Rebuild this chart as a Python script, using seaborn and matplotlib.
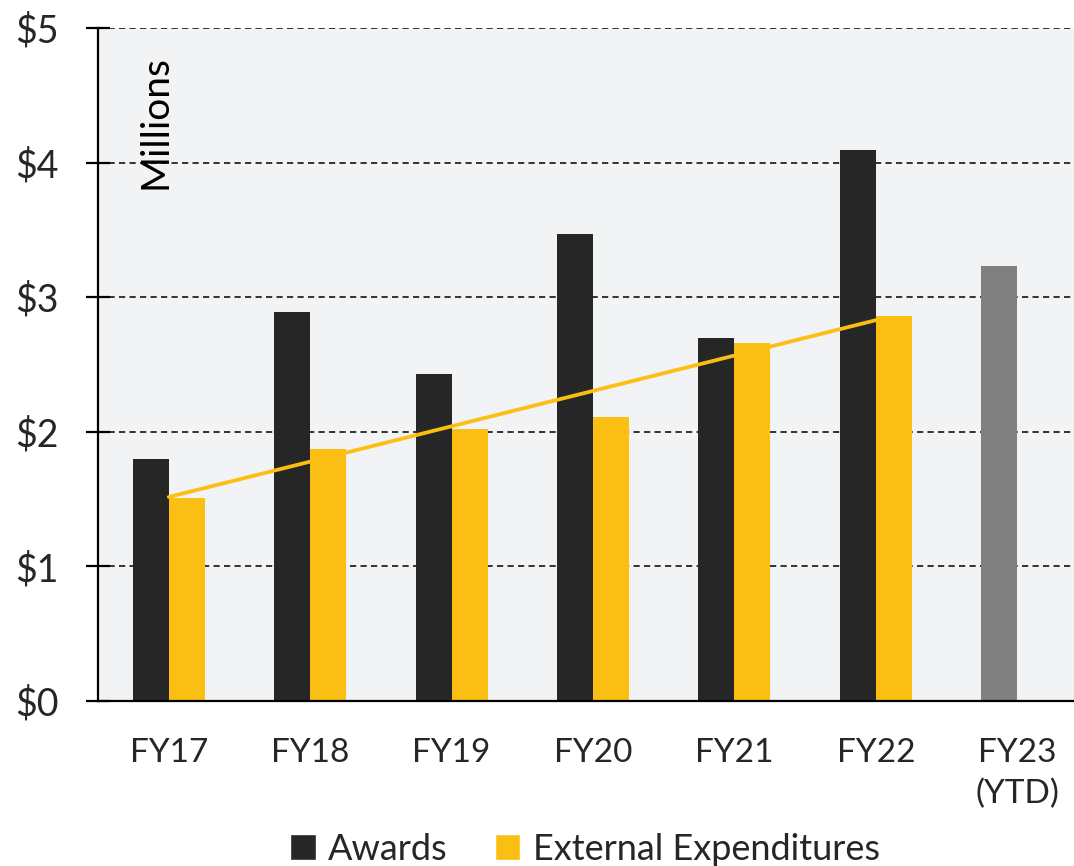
import numpy as np
import pandas as pd
import matplotlib
matplotlib.use("Agg")
import matplotlib.pyplot as plt
from matplotlib.patches import Patch
import seaborn as sns

categories = ["FY17", "FY18", "FY19", "FY20", "FY21", "FY22", "FY23\n(YTD)"]
awards = [1.80, 2.89, 2.43, 3.47, 2.70, 4.09, 3.23]
external = [1.51, 1.875, 2.02, 2.11, 2.66, 2.86, np.nan]
y_ticks = [0, 1, 2, 3, 4, 5]
y_tick_labels = ["$0", "$1", "$2", "$3", "$4", "$5"]

c_awards = "#262626"
c_ext = "#FBBF14"
c_ytd = "#808080"
bg = "#F2F3F5"

sns.set_theme(style="white")
plt.rcParams["font.family"] = ["Lato", "DejaVu Sans"]

df = pd.DataFrame({
    "cat": categories * 2,
    "val": awards + external,
    "series": ["Awards"] * len(categories) + ["External Expenditures"] * len(categories),
})

fig = plt.figure(figsize=(10.74, 8.66), dpi=100)
ax = fig.add_axes([98 / 1074, 1 - 701 / 866, 990 / 1074, (701 - 28) / 866])
ax.set_facecolor(bg)

sns.barplot(data=df, x="cat", y="val", hue="series", order=categories,
            hue_order=["Awards", "External Expenditures"],
            palette=[c_awards, c_ext], width=0.51, gap=0, ax=ax,
            legend=False, saturation=1, errorbar=None, linewidth=0)

# FY23 (YTD) bar in gray
ax.containers[0].patches[-1].set_facecolor(c_ytd)

# linear trend of external expenditures
idx = np.arange(len(categories))
mask = ~np.isnan(np.array(external, dtype=float))
sns.regplot(x=idx[mask], y=np.array(external)[mask], scatter=False, ci=None,
            truncate=True, color=c_ext, line_kws={"linewidth": 2.7}, ax=ax)

ax.set_xlim(-0.5, len(categories) - 0.5)
ax.set_ylim(0, 5)
ax.set_yticks(y_ticks)
ax.set_yticklabels(y_tick_labels, fontsize=27)
ax.set_xticks(idx)
ax.set_xticklabels(categories, fontsize=24, linespacing=1.4)
ax.set_xticks(np.arange(len(categories) + 1) - 0.5, minor=True)
ax.tick_params(axis="x", which="major", length=0, pad=27)
ax.tick_params(axis="x", which="minor", direction="inout", length=17, width=1.6, color="black")
ax.tick_params(axis="y", which="major", direction="inout", length=17, width=1.6,
               color="black", pad=20, left=True)
ax.set_xlabel("")
ax.set_ylabel("")

for y in y_ticks[1:]:
    ax.axhline(y, color="#333333", linestyle=(0, (3.2, 2.2)), linewidth=1.4, zorder=0.5)
ax.set_axisbelow(True)

for s in ["top", "right"]:
    ax.spines[s].set_visible(False)
for s in ["left", "bottom"]:
    ax.spines[s].set_color("black")
    ax.spines[s].set_linewidth(1.6)

ax.text(0.058, 0.96, "Millions", rotation=90, transform=ax.transAxes,
        ha="center", va="top", fontsize=28, color="black")

handles = [Patch(facecolor=c_awards, label="Awards"),
           Patch(facecolor=c_ext, label="External Expenditures")]
fig.legend(handles=handles, loc="center", bbox_to_anchor=(585 / 1074, 17 / 866),
           ncol=2, frameon=False, fontsize=26, handlelength=0.7, handleheight=0.7,
           handletextpad=0.35, columnspacing=1.3)

fig.savefig("out.png", dpi=100, facecolor="white")
